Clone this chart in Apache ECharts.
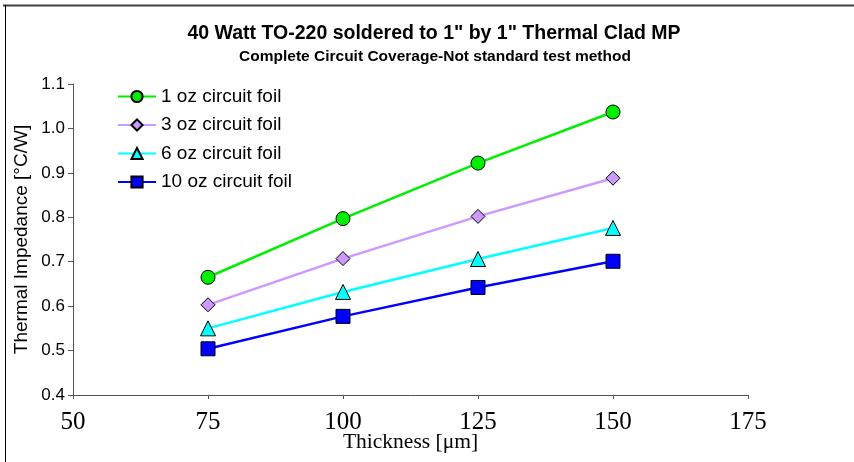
<!DOCTYPE html>
<html>
<head>
<meta charset="utf-8">
<script src="https://cdn.jsdelivr.net/npm/echarts@6/dist/echarts.min.js"></script>
<style>html,body{margin:0;padding:0;background:#fff;}#c{width:854px;height:462px;}</style>
</head>
<body>
<div id="c"></div>
<script>
const thickness = [75, 100, 125, 150];
const seriesNames = ['1 oz circuit foil', '3 oz circuit foil', '6 oz circuit foil', '10 oz circuit foil'];
const oz1 = [0.665, 0.797, 0.922, 1.037];
const oz3 = [0.603, 0.707, 0.802, 0.888];
const oz6 = [0.550, 0.632, 0.706, 0.776];
const oz10 = [0.504, 0.577, 0.642, 0.701];
const xTicks = [50, 75, 100, 125, 150, 175];
const yTicks = [0.4, 0.5, 0.6, 0.7, 0.8, 0.9, 1.0, 1.1];

const values = [oz1, oz3, oz6, oz10];
const colors = ['#00ee00', '#cc99ff', '#00ffff', '#0000ff'];
const symbols = ['circle', 'diamond', 'triangle', 'rect'];
const sizes = [14, 14, 15, 14];

const chart = echarts.init(document.getElementById('c'), null, {renderer: 'canvas'});
const sans = 'Liberation Sans, Arial, sans-serif';
const serif = 'Liberation Serif, Times New Roman, serif';

const option = {
  backgroundColor: '#fff',
  animation: false,
  graphic: [
    {type: 'line', shape: {x1: 3, y1: 5.5, x2: 854, y2: 5.5}, style: {stroke: '#404040', lineWidth: 2}},
    {type: 'line', shape: {x1: 5.5, y1: 5, x2: 5.5, y2: 462}, style: {stroke: '#000', lineWidth: 1}},
    {type: 'text', x: 434, y: 34, style: {text: '40 Watt TO-220 soldered to 1" by 1" Thermal Clad MP', font: 'bold 19.5px ' + sans, fill: '#000', textAlign: 'center', textVerticalAlign: 'middle'}},
    {type: 'text', x: 435, y: 57, style: {text: 'Complete Circuit Coverage-Not standard test method', font: 'bold 15.5px ' + sans, fill: '#000', textAlign: 'center', textVerticalAlign: 'middle'}}
  ],
  legend: {
    orient: 'vertical',
    left: 117,
    top: 87,
    padding: 0,
    itemWidth: 38,
    itemHeight: 14,
    itemGap: 9.5,
    textStyle: {fontFamily: sans, fontSize: 19, color: '#000'},
    data: seriesNames
  },
  grid: {left: 73, right: 106, top: 84, bottom: 67, containLabel: false, outerBoundsMode: 'none'},
  xAxis: {
    type: 'value',
    min: xTicks[0],
    max: xTicks[xTicks.length - 1],
    interval: 25,
    name: 'Thickness [\u03bcm]',
    nameLocation: 'middle',
    nameGap: 36,
    nameMoveOverlap: false,
    nameTextStyle: {fontFamily: serif, fontSize: 21.5, color: '#000'},
    axisLine: {onZero: false, lineStyle: {color: '#555', width: 1}},
    axisTick: {show: true, length: 4, inside: false, lineStyle: {color: '#555'}},
    axisLabel: {fontFamily: serif, fontSize: 25, color: '#000', margin: 15},
    splitLine: {show: false}
  },
  yAxis: {
    type: 'value',
    min: yTicks[0],
    max: yTicks[yTicks.length - 1],
    interval: 0.1,
    name: 'Thermal Impedance [\u00b0C/W]',
    nameLocation: 'middle',
    nameGap: 42,
    nameMoveOverlap: false,
    nameTextStyle: {fontFamily: sans, fontSize: 19, color: '#000'},
    axisLine: {show: true, lineStyle: {color: '#555', width: 1}},
    axisTick: {show: true, length: 5, inside: false, lineStyle: {color: '#555'}},
    axisLabel: {fontFamily: sans, fontSize: 17, color: '#000', margin: 8, formatter: v => v.toFixed(1)},
    splitLine: {show: false}
  },
  series: values.map((vals, i) => ({
    name: seriesNames[i],
    type: 'line',
    data: thickness.map((t, j) => [t, vals[j]]),
    symbol: symbols[i],
    symbolSize: sizes[i],
    showAllSymbol: true,
    lineStyle: {color: colors[i], width: 2.5},
    itemStyle: {color: colors[i], borderColor: '#000', borderWidth: 1},
    emphasis: {disabled: true}
  }))
};
chart.setOption(option);
</script>
</body>
</html>
